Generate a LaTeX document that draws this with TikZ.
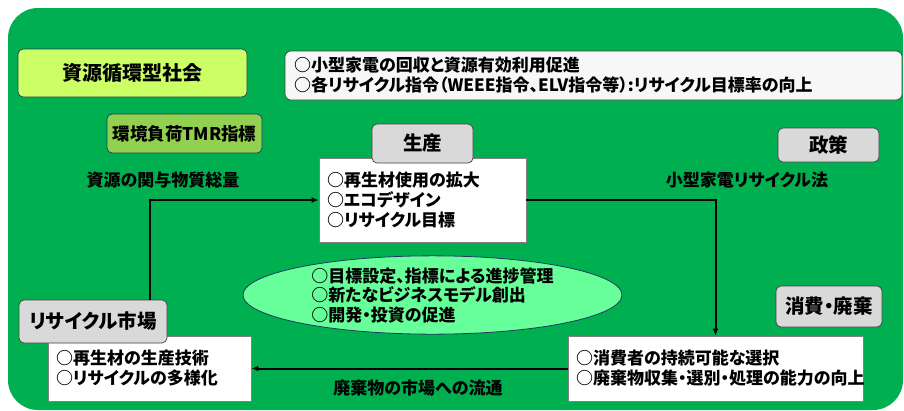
\documentclass[tikz,border=0pt]{standalone}
\usepackage{fontspec}
\setmainfont{Noto Sans CJK JP}[RawFeature={+palt}]
\usepackage{xcolor}
\usepackage{tikz}
\usetikzlibrary{shapes.geometric, arrows.meta, positioning, calc}

\definecolor{bggreen}{HTML}{00B050}
\definecolor{lblgray}{HTML}{D9D9D9}
\definecolor{limefill}{HTML}{CCFF66}
\definecolor{tmrfill}{HTML}{92D050}
\definecolor{ovalfill}{HTML}{66FF99}
\definecolor{navyline}{HTML}{1F3A5F}

\begin{document}
\begin{tikzpicture}[
    x=1pt, y=-1pt,
    >={Latex[length=7pt, width=6pt]},
    % Styles
    labelbox/.style={rectangle, draw=black!75, fill=lblgray, rounded corners=5pt, font=\fontsize{19.5}{22}\selectfont\bfseries, line width=0.7pt},
    contentbox/.style={rectangle, draw=black!50, fill=white, inner xsep=8pt, align=left, font=\fontsize{17}{20}\selectfont\bfseries, line width=0.9pt},
    themebox/.style={rectangle, draw=navyline, fill=#1, rounded corners=5pt, line width=0.7pt},
    plaintext/.style={font=\fontsize{17}{20}\selectfont\bfseries},
    flowarrow/.style={->, line width=2pt, color=black},
]

% === FRAME ===
\useasboundingbox (0,0) rectangle (904,410);
\fill[bggreen, rounded corners=30pt] (8,8) rectangle (903,410);

% === TOP ROW ===
\node[themebox=limefill, minimum width=229pt, minimum height=48pt, font=\fontsize{20}{22}\selectfont\bfseries] (society) at (132.5,73) {資源循環型社会};
\node[rectangle, draw=black!75, fill=white!97!black, rounded corners=6pt, minimum width=617pt, minimum height=49pt, text width=599pt, align=left, font=\fontsize{17}{20}\selectfont\bfseries, line width=0.7pt] (targets) at (593.5,75.5) {○小型家電の回収と資源有効利用促進\\○各リサイクル指令（WEEE指令、ELV指令等）:リサイクル目標率の向上};
\node[themebox=tmrfill, minimum width=155pt, minimum height=39pt, font=\fontsize{17.5}{20}\selectfont\bfseries] (tmr) at (184.5,133.5) {環境負荷TMR指標};

% === PRODUCTION ===
\node[contentbox, text width=191pt, minimum height=84pt] (prod) at (422.5,200) {○再生材使用の拡大\\○エコデザイン\\○リサイクル目標};
\node[labelbox, minimum width=101pt, minimum height=39pt] (prodlbl) at (422.5,143.5) {生産};

% === POLICY ===
\node[labelbox, minimum width=101pt, minimum height=34pt] (policy) at (828.5,145) {政策};
\node[plaintext] (law) at (747,180) {小型家電リサイクル法};
\node[plaintext] (tmrtext) at (163,180) {資源の関与物質総量};

% === CENTRE OVAL ===
\node[ellipse, draw=navyline, fill=ovalfill, line width=0.8pt, minimum width=379pt, minimum height=76pt, align=left, inner sep=0pt, font=\fontsize{17}{19.5}\selectfont\bfseries] (measures) at (432.5,295) {○目標設定、指標による進捗管理\\○新たなビジネスモデル創出\\○開発・投資の促進};

% === RECYCLING MARKET ===
\node[contentbox, text width=187pt, minimum height=65pt] (market) at (149.5,368.5) {○再生材の生産技術\\○リサイクルの多様化};
\node[labelbox, minimum width=148pt, minimum height=43pt] (marketlbl) at (93,321.5) {リサイクル市場};

% === CONSUMPTION ===
\node[contentbox, text width=279pt, minimum height=65pt] (consume) at (715.5,368.5) {○消費者の持続可能な選択\\○廃棄物収集・選別・処理の能力の向上};
\node[labelbox, minimum width=106pt, minimum height=41pt] (consumelbl) at (829,306.5) {消費・廃棄};

% === FLOWS ===
\draw[flowarrow] (marketlbl.north -| market) |- (prod.west);
\draw[flowarrow] (prod.east) -| (consume.north);
\draw[flowarrow] (consume.west) -- (market.east);
\node[plaintext] (flow) at (418,388) {廃棄物の市場への流通};

\end{tikzpicture}
\end{document}
